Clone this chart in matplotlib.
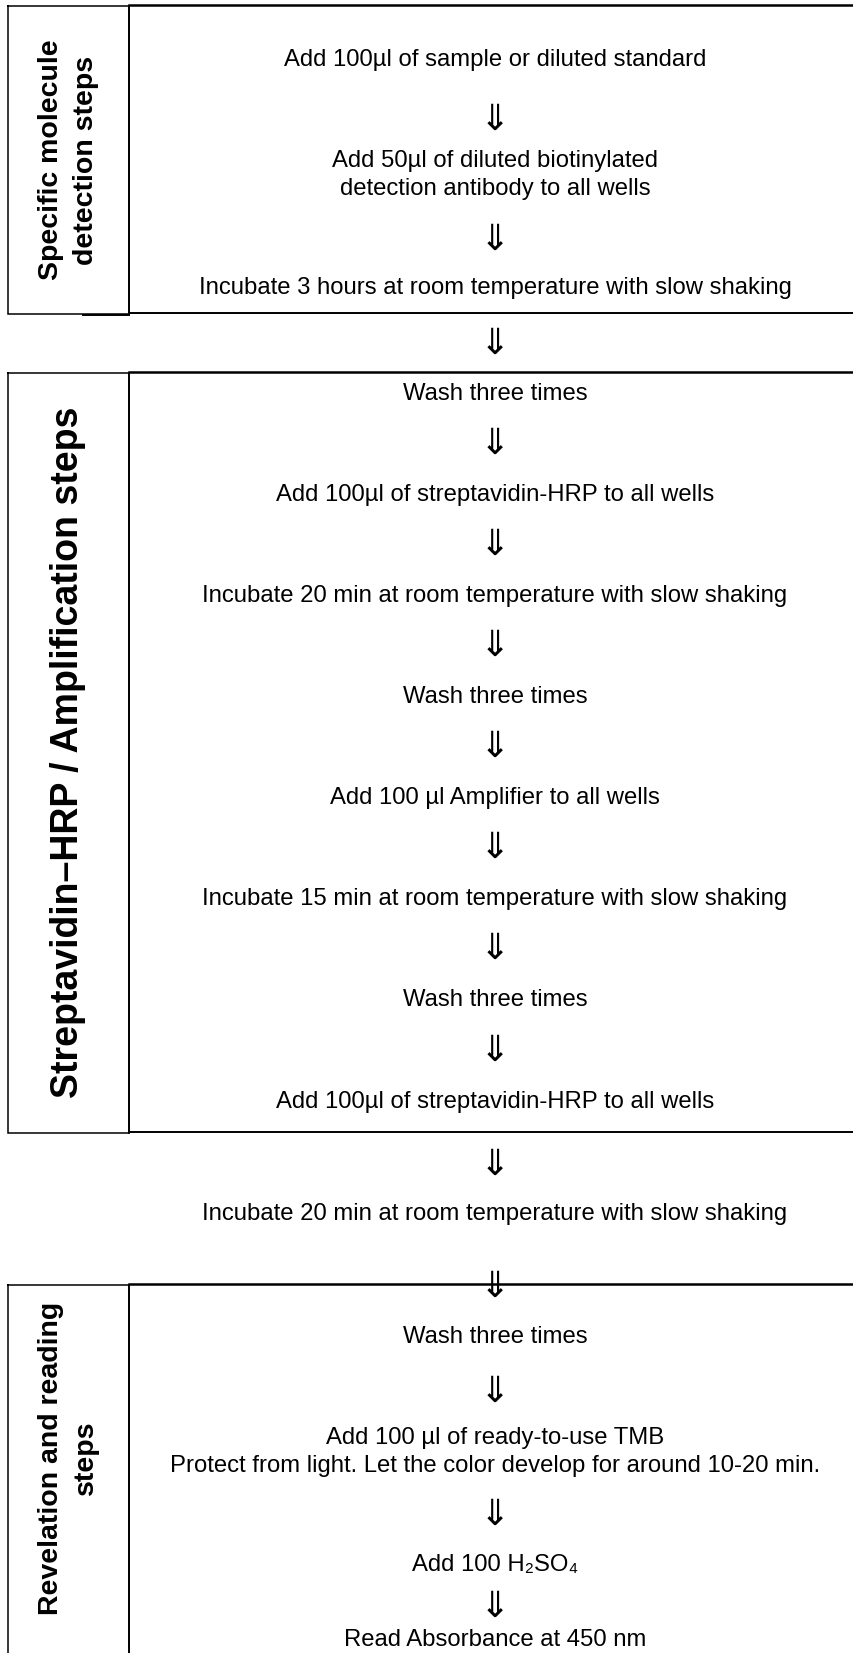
import matplotlib
matplotlib.use("Agg")
import matplotlib.pyplot as plt

# Conteúdo do fluxograma
section_labels = ["Specific molecule\ndetection steps",
                  "Streptavidin\u2013HRP / Amplification steps",
                  "Revelation and reading\nsteps"]
label_size = [20.5, 27, 20.5]
section_top = [6, 373, 1285]
section_bottom = [314, 1133, 1665]
label_y = [160, 752, 1458]

steps = ["Add 100\u00b5l of sample or diluted standard",
         "Add 50\u00b5l of diluted biotinylated\ndetection antibody to all wells",
         "Incubate 3 hours at room temperature with slow shaking",
         "Wash three times",
         "Add 100\u00b5l of streptavidin-HRP to all wells",
         "Incubate 20 min at room temperature with slow shaking",
         "Wash three times",
         "Add 100 \u00b5l Amplifier to all wells",
         "Incubate 15 min at room temperature with slow shaking",
         "Wash three times",
         "Add 100\u00b5l of streptavidin-HRP to all wells",
         "Incubate 20 min at room temperature with slow shaking",
         "Wash three times",
         "Add 100 \u00b5l of ready-to-use TMB\nProtect from light. Let the color develop for around 10-20 min.",
         "Add 100 H\u2082SO\u2084",
         "Read Absorbance at 450 nm"]
step_y = [60, 175, 288, 394, 495, 596, 697, 798, 899, 1000, 1102,
          1214, 1337, 1452, 1565, 1640]
arrow_y = [120, 240, 344, 444, 545, 646, 747, 848, 949, 1051,
           1165, 1287, 1392, 1515, 1607]

# área do gráfico em pixels
fig = plt.figure(figsize=(8.54, 16.53), dpi=100)
ax = fig.add_axes([0, 0, 1, 1])
ax.set_xlim(0, 854)
ax.set_ylim(1653, 0)
ax.axis("off")

left_x, mid_x, right_x = 8, 129, 857
cx = 495

for label, size, ly, top, bot in zip(section_labels, label_size, label_y,
                                     section_top, section_bottom):
    # coluna do rótulo
    ax.plot([left_x, mid_x, mid_x, left_x, left_x], [top, top, bot, bot, top],
            color="black", lw=1.1, solid_joinstyle="miter")
    # caixa das etapas
    ax.plot([mid_x, right_x], [top - 1, top - 1], color="black", lw=1.8)
    ax.plot([mid_x, mid_x], [top, bot], color="black", lw=1.3)
    ax.plot([mid_x, right_x], [bot - 1, bot - 1], color="black", lw=1.4)
    ax.text((left_x + mid_x) / 2, ly, label,
            rotation=90, ha="center", va="center", fontsize=size,
            fontweight="bold", family="Liberation Sans", linespacing=1.45)

# linha inferior estendida da primeira caixa
ax.plot([83, mid_x], [section_bottom[0] + 1, section_bottom[0] + 1],
        color="black", lw=1.4)

for txt, y in zip(steps, step_y):
    ax.text(cx, y, txt, ha="center", va="center", fontsize=17.2,
            family=["Liberation Sans", "DejaVu Sans"], linespacing=1.3)

for y in arrow_y:
    ax.text(cx, y, "\u21d3", ha="center", va="center", fontsize=26,
            family=["Noto Sans CJK JP", "DejaVu Sans"])

fig.savefig("out.png", dpi=100, facecolor="white")
